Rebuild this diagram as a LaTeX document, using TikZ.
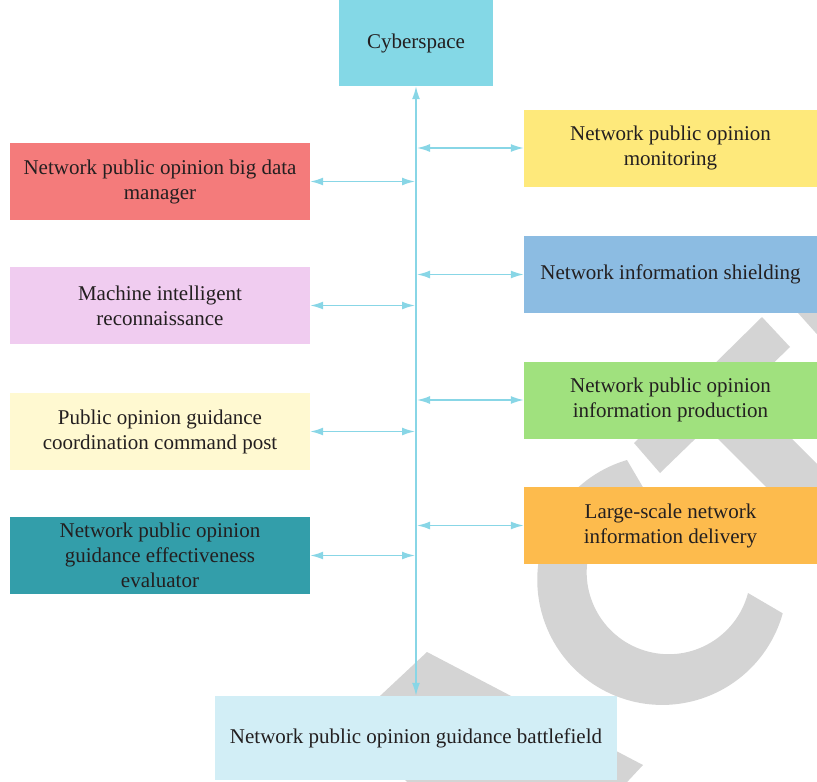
\documentclass[tikz,border=0pt]{standalone}
\usepackage{fontspec}
\setmainfont{Liberation Serif}
\usetikzlibrary{arrows.meta}
\definecolor{textdark}{HTML}{231F20}
\definecolor{linkcyan}{HTML}{88D6E6}
\definecolor{cybercyan}{HTML}{84D8E6}
\definecolor{mgrred}{HTML}{F47B7B}
\definecolor{reconpink}{HTML}{F0CCF0}
\definecolor{postcream}{HTML}{FFF9D1}
\definecolor{evalteal}{HTML}{339EAA}
\definecolor{monyellow}{HTML}{FEE97B}
\definecolor{shieldblue}{HTML}{8CBCE2}
\definecolor{prodgreen}{HTML}{A0E17E}
\definecolor{delivorange}{HTML}{FDBB4D}
\definecolor{fieldcyan}{HTML}{D2EEF6}
\definecolor{markgray}{HTML}{D4D4D4}
\tikzset{
  box/.style={rectangle, inner sep=0pt, align=center, text=textdark,
    font=\fontsize{21}{25}\selectfont},
  leftbox/.style={box, minimum width=300pt, minimum height=77pt},
  rightbox/.style={box, minimum width=293pt, minimum height=77pt},
  link/.style={draw=linkcyan, line width=1.6pt,
    {Latex[length=13pt,width=8pt]}-{Latex[length=13pt,width=8pt]}},
  watermark/.style={fill=markgray}
}
\begin{document}
\begin{tikzpicture}[x=1pt,y=-1pt]
\useasboundingbox (0,0) rectangle (817,782);
% watermark letters
\begin{scope}
\clip (0,0) rectangle (817,782);
\fill[watermark] (627,460) arc[start angle=253.6, end angle=15.5, radius=125] -- (748,593)
  arc[start angle=14.7, end angle=254.3, radius=82] -- cycle;
\fill[watermark] (762,317) -- (790,347) -- (660,473) -- (634,443) -- cycle;
\fill[watermark] (707,428) -- (744,391) -- (904,551) -- (867,588) -- cycle;
\fill[watermark] (790,304) -- (840,304) -- (840,360) -- cycle;
\fill[watermark] (427,652) -- (643,765) -- (615,795) -- (420,795) -- (350,724) -- cycle;
\end{scope}
% top and bottom
\node[box, fill=cybercyan, minimum width=154pt, minimum height=86pt] (cyber) at (416,43) {Cyberspace};
\node[box, fill=fieldcyan, minimum width=402pt, minimum height=84pt] (field) at (416,738) {Network public opinion guidance battlefield};
% left column
\node[leftbox, fill=mgrred] (mgr) at (160,181.5) {Network public opinion big data\\manager};
\node[leftbox, fill=reconpink] (recon) at (160,305.5) {Machine intelligent\\reconnaissance};
\node[leftbox, fill=postcream] (post) at (160,431.5) {Public opinion guidance\\coordination command post};
\node[leftbox, fill=evalteal] (eval) at (160,555.5) {Network public opinion\\guidance effectiveness\\evaluator};
% right column
\node[rightbox, fill=monyellow] (mon) at (670.5,148) {Network public opinion\\monitoring};
\node[rightbox, fill=shieldblue] (shield) at (670.5,274.5) {Network information shielding};
\node[rightbox, fill=prodgreen] (prod) at (670.5,400) {Network public opinion\\information production};
\node[rightbox, fill=delivorange] (deliv) at (670.5,525.5) {Large-scale network\\information delivery};
% connectors
\draw[link] (cyber.south) -- (field.north);
\draw[link, shorten >=1pt] (mgr.east) -- (mgr.east -| cyber.south);
\draw[link, shorten >=1pt] (recon.east) -- (recon.east -| cyber.south);
\draw[link, shorten >=1pt] (post.east) -- (post.east -| cyber.south);
\draw[link, shorten >=1pt] (eval.east) -- (eval.east -| cyber.south);
\draw[link, shorten <=1pt] (cyber.south |- mon.west) -- (mon.west);
\draw[link, shorten <=1pt] (cyber.south |- shield.west) -- (shield.west);
\draw[link, shorten <=1pt] (cyber.south |- prod.west) -- (prod.west);
\draw[link, shorten <=1pt] (cyber.south |- deliv.west) -- (deliv.west);
\end{tikzpicture}
\end{document}
